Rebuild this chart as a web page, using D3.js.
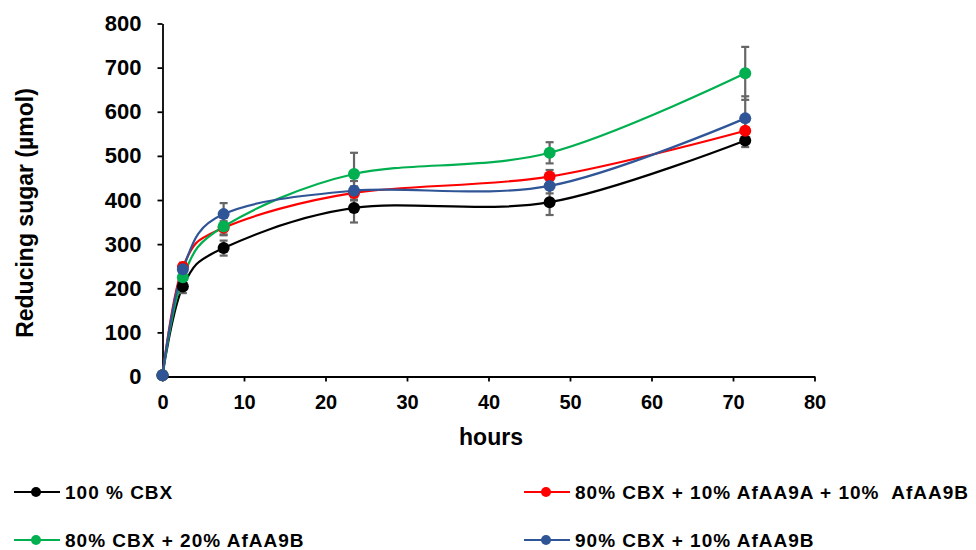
<!DOCTYPE html>
<html>
<head>
<meta charset="utf-8">
<script src="https://cdn.jsdelivr.net/npm/d3@7"></script>
<style>
  html, body { margin: 0; padding: 0; background: #fff; }
  svg { display: block; }
  text { font-family: "Liberation Sans", Arial, sans-serif; font-weight: bold; fill: #000; }
</style>
</head>
<body>
<svg id="chart" width="976" height="550"></svg>
<script>
// ---- data ----
const hours = [0, 2.5, 7.5, 23.5, 47.5, 71.5];
const seriesNames = ["100 % CBX", "80% CBX + 10% AfAA9A + 10%  AfAA9B", "80% CBX + 20% AfAA9B", "90% CBX + 10% AfAA9B"];
const cbx100 = [3, 204, 291, 382, 395, 535];
const cbx80aa9a = [3, 248, 337, 416, 453, 557];
const cbx80aa9b = [3, 225, 340, 459, 507, 687];
const cbx90aa9b = [3, 243, 368, 421, 432, 585];
const err100 = [0, 15, 17, 33, 29, 15];
const err80aa9a = [0, 10, 15, 15, 15, 20];
const err80aa9b = [0, 12, 20, 48, 24, 60];
const err90aa9b = [0, 12, 25, 22, 17, 50];
const xTicks = [0, 10, 20, 30, 40, 50, 60, 70, 80];
const yTicks = [0, 100, 200, 300, 400, 500, 600, 700, 800];
const colors = ["#000000", "#FF0000", "#00B050", "#2F5597"];

const values = [cbx100, cbx80aa9a, cbx80aa9b, cbx90aa9b];
const errors = [err100, err80aa9a, err80aa9b, err90aa9b];
const series = seriesNames.map((name, i) => ({
  name, color: colors[i],
  pts: hours.map((h, j) => ({ x: h, y: values[i][j], e: errors[i][j] }))
}));

const svg = d3.select("#chart");
const x = d3.scaleLinear().domain([0, 80]).range([162.5, 814.5]);
const y = d3.scaleLinear().domain([0, 800]).range([376.5, 23.5]);

// axes
const xAxis = svg.append("g").attr("transform", `translate(0,${y(0)})`)
  .call(d3.axisBottom(x).tickValues(xTicks).tickSize(5).tickSizeOuter(0).tickPadding(13));
const yAxis = svg.append("g").attr("transform", `translate(${x(0)},0)`)
  .call(d3.axisLeft(y).tickValues(yTicks).tickSize(5).tickSizeOuter(0).tickPadding(16));
[xAxis, yAxis].forEach(g => {
  g.selectAll("path, line").attr("stroke", "#000").attr("stroke-width", 1.8);
  g.selectAll("text").attr("font-family", "Liberation Sans, Arial, sans-serif").attr("font-weight", "bold").attr("fill", "#000");
});
xAxis.selectAll("text").attr("font-size", 20);
yAxis.selectAll("text").attr("font-size", 22);
yAxis.selectAll(".tick").filter(d => d === 0).select("line").remove();

// axis titles
svg.append("text").attr("x", 491).attr("y", 445).attr("text-anchor", "middle")
  .attr("font-size", 23).text("hours");
svg.append("text").attr("transform", "translate(33,213) rotate(-90)").attr("text-anchor", "middle")
  .attr("font-size", 23).text("Reducing sugar (µmol)");

// lines
const line = d3.line().x(d => x(d.x)).y(d => y(d.y)).curve(d3.curveCardinal.tension(0));
svg.append("g").selectAll("path").data(series).join("path")
  .attr("d", d => line(d.pts)).attr("fill", "none")
  .attr("stroke", d => d.color).attr("stroke-width", 2.2);

// error bars
const eb = svg.append("g").attr("stroke", "#666666").attr("stroke-width", 2.2);
series.forEach(s => {
  s.pts.filter(p => p.e > 0).forEach(p => {
    eb.append("line").attr("x1", x(p.x)).attr("x2", x(p.x)).attr("y1", y(p.y - p.e)).attr("y2", y(p.y + p.e));
    eb.append("line").attr("x1", x(p.x) - 4).attr("x2", x(p.x) + 4).attr("y1", y(p.y - p.e)).attr("y2", y(p.y - p.e));
    eb.append("line").attr("x1", x(p.x) - 4).attr("x2", x(p.x) + 4).attr("y1", y(p.y + p.e)).attr("y2", y(p.y + p.e));
  });
});

// markers
series.forEach(s => {
  svg.append("g").selectAll("circle").data(s.pts).join("circle")
    .attr("cx", d => x(d.x)).attr("cy", d => y(d.y)).attr("r", 6)
    .attr("fill", s.color);
});

// legend
const legPos = [[14, 492], [524, 492], [14, 540], [524, 540]];
series.forEach((s, i) => {
  const [lx, ly] = legPos[i];
  const g = svg.append("g").attr("transform", `translate(${lx},${ly})`);
  g.append("line").attr("x1", 0).attr("x2", 46).attr("y1", 0).attr("y2", 0)
    .attr("stroke", s.color).attr("stroke-width", 2.2);
  g.append("circle").attr("cx", 22).attr("cy", 0).attr("r", 5).attr("fill", s.color);
  g.append("text").attr("x", 51).attr("y", 6.5).attr("font-size", 19)
    .attr("letter-spacing", "1px").style("white-space", "pre").text(s.name);
});
</script>
</body>
</html>
